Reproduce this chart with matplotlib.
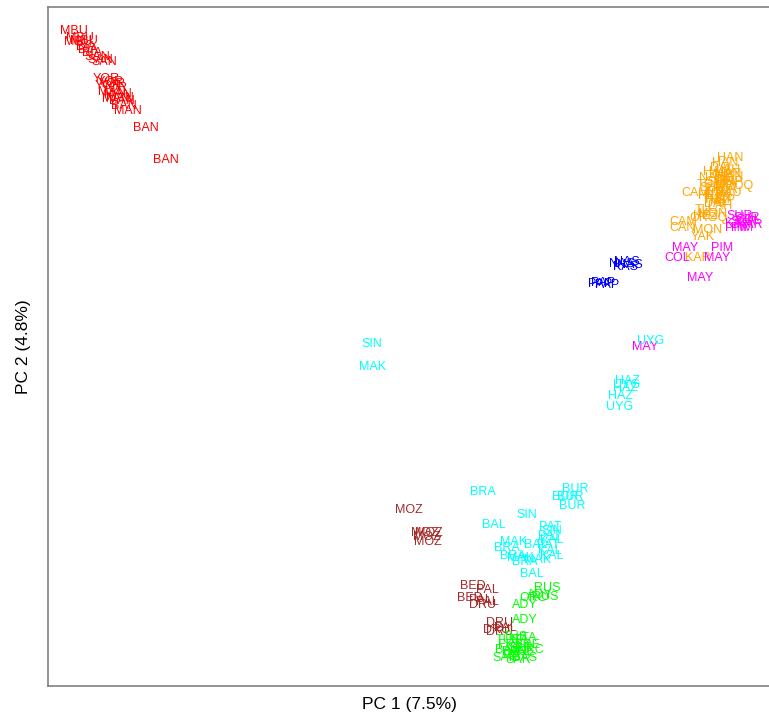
import matplotlib
matplotlib.use("Agg")
from matplotlib import pyplot as plt

plt.rcParams['font.family'] = ['Liberation Sans', 'DejaVu Sans']

# PC scores per region (label, PC1, PC2)
africa = [
    ("MBU", -0.326, 0.319), ("MBU", -0.320, 0.312), ("MBU", -0.322, 0.308),
    ("MBU", -0.316, 0.309), ("BIA", -0.314, 0.303), ("BIA", -0.312, 0.300),
    ("BIA", -0.308, 0.297), ("SAN", -0.303, 0.293), ("SAN", -0.300, 0.290),
    ("SAN", -0.296, 0.288), ("YOR", -0.294, 0.271), ("YOR", -0.290, 0.268),
    ("YOR", -0.292, 0.264), ("YOR", -0.286, 0.262), ("MAN", -0.288, 0.258),
    ("MAN", -0.282, 0.256), ("MAN", -0.284, 0.251), ("BAN", -0.278, 0.249),
    ("BAN", -0.276, 0.244), ("MAN", -0.272, 0.239), ("BAN", -0.254, 0.222),
    ("BAN", -0.234, 0.190), ("YOR", -0.288, 0.266), ("MAN", -0.280, 0.252),
]
east_asia = [
    ("HAN", 0.330, 0.192), ("HAN", 0.325, 0.187), ("DAI", 0.320, 0.182),
    ("LAH", 0.328, 0.180), ("JAP", 0.322, 0.175), ("HAN", 0.330, 0.173),
    ("NAX", 0.312, 0.172), ("SHE", 0.318, 0.168), ("MIA", 0.326, 0.166),
    ("TUJ", 0.308, 0.165), ("OROQ", 0.334, 0.164), ("XIB", 0.315, 0.160),
    ("YIZ", 0.322, 0.158), ("DAU", 0.328, 0.157), ("HEZ", 0.310, 0.154),
    ("HAN", 0.318, 0.152), ("JAP", 0.324, 0.150), ("DAI", 0.314, 0.146),
    ("LAH", 0.320, 0.144), ("CAM", 0.295, 0.157), ("TU", 0.303, 0.140),
    ("MON", 0.312, 0.136), ("HEZ", 0.305, 0.134), ("OROQ", 0.308, 0.132),
    ("CAM", 0.283, 0.128), ("CAN", 0.282, 0.122), ("MON", 0.307, 0.120),
    ("YAK", 0.303, 0.113), ("KAR", 0.298, 0.092),
    ("HAN", 0.316, 0.178), ("DAI", 0.324, 0.170), ("SHE", 0.312, 0.162),
    ("JAP", 0.332, 0.168), ("NAX", 0.318, 0.156), ("MIA", 0.326, 0.160),
    ("TUJ", 0.314, 0.150), ("YIZ", 0.320, 0.148), ("HAN", 0.328, 0.176),
]
america = [
    ("SUR", 0.340, 0.134), ("SUR", 0.347, 0.132), ("COL", 0.348, 0.130),
    ("SUR", 0.344, 0.128), ("KAR", 0.338, 0.126), ("KAR", 0.350, 0.125),
    ("PIM", 0.342, 0.122), ("PIM", 0.336, 0.122), ("MAY", 0.285, 0.102),
    ("PIM", 0.322, 0.102), ("COL", 0.277, 0.092), ("MAY", 0.317, 0.092),
    ("MAY", 0.300, 0.072), ("MAY", 0.245, 0.003),
]
oceania = [
    ("NAS", 0.227, 0.088), ("NAS", 0.222, 0.086), ("NAS", 0.230, 0.085),
    ("KAS", 0.225, 0.083), ("PAP", 0.203, 0.067), ("PAP", 0.200, 0.066),
    ("PAP", 0.207, 0.065),
]
central_asia = [
    ("UYG", 0.251, 0.009), ("SIN", -0.028, 0.006), ("MAK", -0.028, -0.017),
    ("HAZ", 0.227, -0.031), ("UYG", 0.227, -0.035), ("HAZ", 0.225, -0.038),
    ("HAZ", 0.220, -0.046), ("UYG", 0.220, -0.057), ("BRA", 0.083, -0.142),
    ("BUR", 0.175, -0.139), ("BUR", 0.165, -0.147), ("BUR", 0.170, -0.147),
    ("BUR", 0.172, -0.156), ("SIN", 0.127, -0.165), ("BAL", 0.094, -0.175),
    ("PAT", 0.150, -0.177), ("SIN", 0.152, -0.181), ("PAT", 0.149, -0.186),
    ("KAL", 0.152, -0.190), ("PAT", 0.148, -0.195), ("KAL", 0.150, -0.201),
    ("KAL", 0.152, -0.206), ("MAK", 0.113, -0.192), ("BRA", 0.107, -0.198),
    ("BAL", 0.136, -0.195), ("MAK", 0.120, -0.208), ("BRA", 0.113, -0.206),
    ("MAK", 0.137, -0.210), ("BRA", 0.125, -0.212), ("BAL", 0.132, -0.224),
]
middle_east = [
    ("MOZ", 0.009, -0.160), ("MOZ", 0.025, -0.183), ("MOZ", 0.029, -0.183),
    ("MOZ", 0.027, -0.187), ("MOZ", 0.028, -0.192), ("BED", 0.073, -0.236),
    ("PAL", 0.087, -0.240), ("BED", 0.070, -0.248), ("PAL", 0.080, -0.250),
    ("DRU", 0.083, -0.255), ("PAL", 0.087, -0.252), ("DRU", 0.100, -0.273),
    ("DRU", 0.097, -0.280), ("PAL", 0.105, -0.278), ("DRU", 0.100, -0.282),
]
europe = [
    ("RUS", 0.147, -0.238), ("ADY", 0.140, -0.245), ("RUS", 0.145, -0.247),
    ("ORC", 0.133, -0.248), ("ADY", 0.125, -0.255), ("ADY", 0.125, -0.270),
    ("TUS", 0.115, -0.287), ("ITA", 0.120, -0.290), ("FRE", 0.110, -0.295),
    ("SAR", 0.120, -0.298), ("BAS", 0.115, -0.302), ("FRE", 0.127, -0.295),
    ("SAR", 0.105, -0.308), ("BAS", 0.125, -0.308), ("ITA", 0.112, -0.305),
    ("ORC", 0.130, -0.300), ("TUS", 0.108, -0.290), ("FRE", 0.122, -0.302),
    ("SAR", 0.118, -0.310), ("BAS", 0.108, -0.300), ("ITA", 0.128, -0.288),
]

groups = [
    (africa, '#FF0000'),
    (east_asia, '#FFA500'),
    (america, '#FF00FF'),
    (oceania, '#0000FF'),
    (central_asia, '#00FFFF'),
    (middle_east, '#A52A2A'),
    (europe, '#00FF00'),
]

fig = plt.figure(figsize=(7.69, 7.2), dpi=100)
ax = fig.add_axes([0.0624, 0.0472, 0.9390, 0.9430])

for pts, col in groups:
    for lab, x, y in pts:
        ax.text(x, y, lab, color=col, fontsize=9, ha='center', va='center')

ax.set_xlim(-0.352, 0.370)
ax.set_ylim(-0.336, 0.343)
ax.set_xticks([])
ax.set_yticks([])
for s in ax.spines.values():
    s.set_color('#808080')
    s.set_linewidth(1.2)

ax.set_xlabel('PC 1 (7.5%)', fontsize=12.5, labelpad=8)
ax.set_ylabel('PC 2 (4.8%)', fontsize=12.5, labelpad=12)

fig.savefig('out.png', dpi=100)
